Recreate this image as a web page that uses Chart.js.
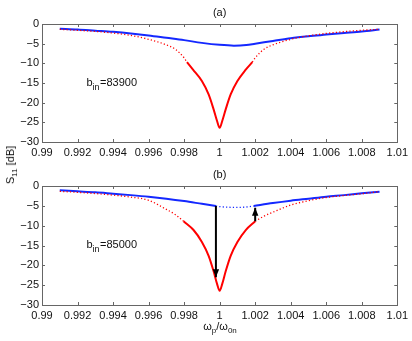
<!DOCTYPE html>
<html>
<head>
<meta charset="utf-8">
<script src="https://cdn.jsdelivr.net/npm/chart.js@4.4.1/dist/chart.umd.min.js"></script>
<style>
  html, body { margin: 0; padding: 0; background: #fff; }
  #wrap { position: relative; width: 412px; height: 341px; overflow: hidden;
          font-family: 'Liberation Sans', Arial, sans-serif; color: #111; }
  canvas { position: absolute; left: 0; }
  #chartA { top: 0; }
  #chartB { top: 170px; }
  .ylab { position: absolute; left: 10px; top: 165px; transform: translate(-50%, -50%) rotate(-90deg);
          font-size: 11px; white-space: nowrap; line-height: 12px; }
  .xlab { position: absolute; left: 220px; top: 326px; transform: translate(-50%, -50%);
          font-size: 11px; white-space: nowrap; line-height: 12px; }
  sub { font-size: 8px; vertical-align: -3px; line-height: 0; }
</style>
</head>
<body>
<div id="wrap">
  <canvas id="chartA" width="412" height="170"></canvas>
  <canvas id="chartB" width="412" height="171"></canvas>
  <div class="ylab">S<sub>11</sub> [dB]</div>
  <div class="xlab">ω<sub>p</sub>/ω<sub>0n</sub></div>
</div>
<script>
Chart.defaults.font.family = "'Liberation Sans', Arial, sans-serif";
Chart.defaults.font.size = 11;
Chart.defaults.color = '#111';

// axis ticks
const X_TICKS = [0.99, 0.992, 0.994, 0.996, 0.998, 1.0, 1.002, 1.004, 1.006, 1.008, 1.01];
const Y_TICKS = [0, -5, -10, -15, -20, -25, -30];

// ---- panel (a), b_in = 83900 ----
const A_BLUE_X = [0.991, 0.992, 0.993, 0.994, 0.995, 0.996, 0.997, 0.998, 0.999, 1.0, 1.0008, 1.0015, 1.002, 1.003, 1.004, 1.005, 1.006, 1.007, 1.008, 1.009];
const A_BLUE_Y = [-1.2, -1.4, -1.7, -2.0, -2.4, -2.9, -3.5, -4.1, -4.8, -5.3, -5.5, -5.35, -5.0, -4.3, -3.6, -3.1, -2.7, -2.3, -1.9, -1.4];

const A_RED_DOT_L_X = [0.991, 0.992, 0.993, 0.994, 0.995, 0.996, 0.997, 0.9975, 0.998, 0.99816];
const A_RED_DOT_L_Y = [-1.35, -1.6, -1.9, -2.3, -2.9, -3.9, -5.3, -6.4, -8.6, -9.7];

const A_RED_X = [0.99816, 0.9985, 0.999, 0.99938, 0.99966, 0.99985, 1.0, 1.00015, 1.00034, 1.00062, 1.001, 1.00147, 1.00184];
const A_RED_Y = [-9.7, -11.6, -14.5, -17.9, -21.7, -24.6, -26.4, -24.6, -21.7, -17.9, -14.5, -11.6, -9.7];

const A_RED_DOT_R_X = [1.00184, 1.002, 1.0025, 1.003, 1.004, 1.005, 1.006, 1.007, 1.008, 1.009];
const A_RED_DOT_R_Y = [-9.7, -8.6, -6.4, -5.3, -3.9, -3.0, -2.4, -1.95, -1.6, -1.35];

// ---- panel (b), b_in = 85000 ----
const B_BLUE_L_X = [0.991, 0.992, 0.993, 0.994, 0.995, 0.996, 0.997, 0.998, 0.999, 0.99979];
const B_BLUE_L_Y = [-1.1, -1.35, -1.6, -1.95, -2.3, -2.7, -3.2, -3.8, -4.5, -5.05];

const B_BLUE_DOT_X = [0.99979, 1.0, 1.0005, 1.001, 1.0015, 1.00192];
const B_BLUE_DOT_Y = [-5.05, -5.2, -5.35, -5.4, -5.3, -5.05];

const B_BLUE_R_X = [1.00192, 1.003, 1.004, 1.005, 1.006, 1.007, 1.008, 1.009];
const B_BLUE_R_Y = [-5.05, -4.3, -3.7, -3.2, -2.7, -2.3, -1.85, -1.45];

const B_RED_DOT_L_X = [0.991, 0.992, 0.993, 0.994, 0.995, 0.996, 0.997, 0.9975, 0.99797];
const B_RED_DOT_L_Y = [-1.35, -1.6, -1.9, -2.3, -2.8, -3.6, -5.9, -7.2, -8.9];

const B_RED_X = [0.99797, 0.99853, 0.999, 0.99938, 0.99966, 0.99985, 1.0, 1.00015, 1.00034, 1.00062, 1.001, 1.00147, 1.002];
const B_RED_Y = [-8.9, -11.1, -14.1, -17.6, -21.5, -24.6, -26.4, -24.6, -21.5, -17.6, -14.1, -11.1, -8.9];

const B_RED_DOT_R_X = [1.002, 1.0025, 1.003, 1.004, 1.005, 1.006, 1.007, 1.008, 1.009];
const B_RED_DOT_R_Y = [-8.9, -7.6, -6.6, -4.8, -3.7, -2.9, -2.4, -1.95, -1.4];

// jump arrows in (b)
const ARROW_X = [0.99979, 1.002];
const ARROW_FROM = [-5.05, -8.9];
const ARROW_TO = [-23.0, -5.5];

// annotation position (data units)
const NOTE_X = 0.9925;
const NOTE_Y = -15.7;

const BLUE = '#1428ff';
const RED = '#ff0000';

const pts = (xs, ys) => xs.map((x, i) => ({ x, y: ys[i] }));

function solid(xs, ys, color, order) {
  return { data: pts(xs, ys), borderColor: color, borderWidth: 2, pointRadius: 0,
           cubicInterpolationMode: 'monotone', order };
}
function dotted(xs, ys, color, order) {
  return { data: pts(xs, ys), borderColor: color, borderWidth: 1.3, borderDash: [1.2, 2.2],
           pointRadius: 0, cubicInterpolationMode: 'monotone', order };
}

const framePlugin = {
  id: 'frame',
  afterDatasetsDraw(chart, args, opts) {
    const { ctx, scales: { x, y } } = chart;
    (opts.arrows || []).forEach(a => {
      const px = x.getPixelForValue(a.x);
      const tip = y.getPixelForValue(a.to);
      const dir = a.to < a.from ? 1 : -1; // 1 = pointing down on screen
      ctx.save();
      ctx.fillStyle = '#000';
      ctx.beginPath();
      ctx.moveTo(px, tip);
      ctx.lineTo(px - 3.2, tip - dir * 8);
      ctx.lineTo(px + 3.2, tip - dir * 8);
      ctx.closePath();
      ctx.fill();
      ctx.restore();
    });
  },
  afterDraw(chart, args, opts) {
    const { ctx, chartArea: ca, scales: { x, y } } = chart;
    ctx.save();
    ctx.strokeStyle = '#666';
    ctx.lineWidth = 1;
    ctx.beginPath();
    X_TICKS.forEach(v => {
      const p = Math.round(x.getPixelForValue(v)) + 0.5;
      ctx.moveTo(p, ca.bottom); ctx.lineTo(p, ca.bottom - 3);
      ctx.moveTo(p, ca.top); ctx.lineTo(p, ca.top + 3);
    });
    Y_TICKS.forEach(v => {
      const p = Math.round(y.getPixelForValue(v)) + 0.5;
      ctx.moveTo(ca.left, p); ctx.lineTo(ca.left + 3, p);
      ctx.moveTo(ca.right, p); ctx.lineTo(ca.right - 3, p);
    });
    ctx.stroke();
    ctx.strokeRect(Math.round(ca.left) + 0.5, Math.round(ca.top) + 0.5,
                   Math.round(ca.right - ca.left), Math.round(ca.bottom - ca.top));

    // panel title
    ctx.fillStyle = '#111';
    ctx.font = "11px 'Liberation Sans', Arial, sans-serif";
    ctx.textAlign = 'center';
    ctx.textBaseline = 'middle';
    ctx.fillText(opts.title, (ca.left + ca.right) / 2, ca.top - 11);

    // b_in note
    let nx = x.getPixelForValue(NOTE_X);
    const ny = y.getPixelForValue(NOTE_Y);
    ctx.textAlign = 'left';
    ctx.textBaseline = 'alphabetic';
    ctx.fillText('b', nx, ny);
    nx += ctx.measureText('b').width;
    ctx.font = "9px 'Liberation Sans', Arial, sans-serif";
    ctx.fillText('in', nx, ny + 4);
    nx += ctx.measureText('in').width + 0.5;
    ctx.font = "11px 'Liberation Sans', Arial, sans-serif";
    ctx.fillText('=' + opts.note, nx, ny);
    ctx.restore();
  }
};

function makeOptions(padTop, xHeight, title, note, arrows) {
  return {
    responsive: false,
    animation: false,
    layout: { padding: { top: padTop, right: 14, left: 0, bottom: 0 } },
    plugins: { legend: { display: false }, tooltip: { enabled: false },
               frame: { title, note, arrows } },
    scales: {
      x: {
        type: 'linear', min: 0.99, max: 1.01,
        afterBuildTicks: s => { s.ticks = X_TICKS.map(v => ({ value: v })); },
        afterFit: s => { s.height = xHeight; },
        grid: { display: false, drawTicks: false }, border: { display: false },
        ticks: { padding: 4, maxRotation: 0, autoSkip: false,
                 callback: v => String(+v.toFixed(3)) },
      },
      y: {
        type: 'linear', min: -30, max: 0,
        afterBuildTicks: s => { s.ticks = Y_TICKS.map(v => ({ value: v })); },
        afterFit: s => { s.width = 42; },
        grid: { display: false, drawTicks: false }, border: { display: false },
        ticks: { padding: 3, callback: v => (v < 0 ? '\u2212' + Math.abs(v) : String(v)) },
      },
    },
  };
}

new Chart(document.getElementById('chartA'), {
  type: 'line',
  data: {
    datasets: [
      dotted(A_RED_DOT_L_X, A_RED_DOT_L_Y, RED, 1),
      dotted(A_RED_DOT_R_X, A_RED_DOT_R_Y, RED, 1),
      solid(A_RED_X, A_RED_Y, RED, 2),
      solid(A_BLUE_X, A_BLUE_Y, BLUE, 3),
    ],
  },
  options: makeOptions(24, 28, '(a)', '83900', []),
  plugins: [framePlugin],
});

const arrowSets = ARROW_X.map((ax, i) => ({
  data: [{ x: ax, y: ARROW_FROM[i] }, { x: ax, y: ARROW_TO[i] }],
  borderColor: '#000', borderWidth: 2, pointRadius: 0, order: 0,
}));

new Chart(document.getElementById('chartB'), {
  type: 'line',
  data: {
    datasets: [
      ...arrowSets,
      dotted(B_RED_DOT_L_X, B_RED_DOT_L_Y, RED, 1),
      dotted(B_RED_DOT_R_X, B_RED_DOT_R_Y, RED, 1),
      dotted(B_BLUE_DOT_X, B_BLUE_DOT_Y, BLUE, 1),
      solid(B_RED_X, B_RED_Y, RED, 2),
      solid(B_BLUE_L_X, B_BLUE_L_Y, BLUE, 3),
      solid(B_BLUE_R_X, B_BLUE_R_Y, BLUE, 3),
    ],
  },
  options: makeOptions(16, 36, '(b)', '85000',
    ARROW_X.map((ax, i) => ({ x: ax, from: ARROW_FROM[i], to: ARROW_TO[i] }))),
  plugins: [framePlugin],
});
</script>
</body>
</html>
